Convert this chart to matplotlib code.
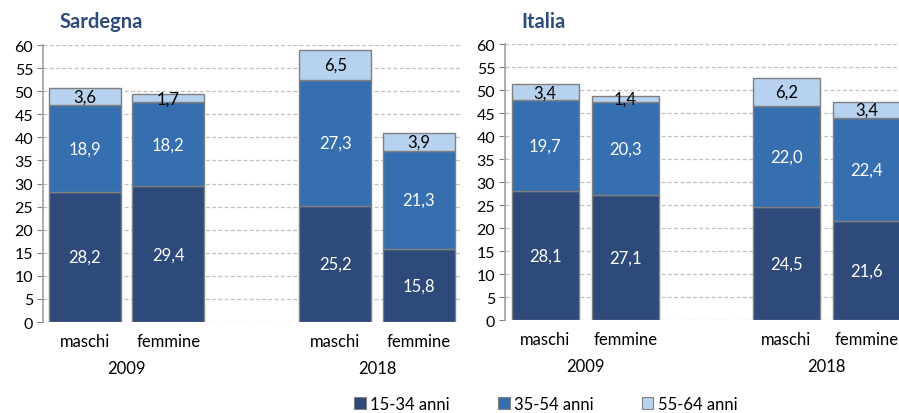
import matplotlib
matplotlib.use('Agg')
import matplotlib.pyplot as plt
from matplotlib.patches import Patch
from matplotlib.transforms import blended_transform_factory

plt.rcParams['font.family'] = ['Lato', 'DejaVu Sans']

sessi = ['maschi', 'femmine', 'maschi', 'femmine']
anni = ['2009', '2018']
fasce = ['15-34 anni', '35-54 anni', '55-64 anni']

sard_15_34 = [28.2, 29.4, 25.2, 15.8]
sard_35_54 = [18.9, 18.2, 27.3, 21.3]
sard_55_64 = [3.6, 1.7, 6.5, 3.9]

ita_15_34 = [28.1, 27.1, 24.5, 21.6]
ita_35_54 = [19.7, 20.3, 22.0, 22.4]
ita_55_64 = [3.4, 1.4, 6.2, 3.4]

colori = ['#2E4A7A', '#356FB0', '#B7D2EE']
col_testo = ['white', 'white', 'black']
pos = [0, 1, 3, 4]


def fmt(v):
    return ('%.1f' % v).replace('.', ',')


def grafico(ax, titolo, serie, larg):
    base = [0] * len(pos)
    for vals, c, ct in zip(serie, colori, col_testo):
        ax.bar(pos, vals, larg, bottom=base, color=c, edgecolor='#808080',
               linewidth=1.0, zorder=3)
        for x, b, v in zip(pos, base, vals):
            ax.text(x, b + v / 2, fmt(v), ha='center', va='center',
                    color=ct, fontsize=12, zorder=4)
        base = [b + v for b, v in zip(base, vals)]
    ax.set_xlim(-0.5, 4.5)
    ax.set_ylim(0, 60)
    ax.set_yticks(range(0, 61, 5))
    ax.set_xticks([])
    ax.tick_params(axis='y', labelsize=11.5, length=4, color='#808080', pad=3)
    ax.grid(axis='y', linestyle=(0, (3, 2)), color='#BFBFBF', linewidth=0.9, zorder=0)
    for s in ['top', 'right', 'bottom']:
        ax.spines[s].set_visible(False)
    ax.spines['left'].set_color('#A0A0A0')
    ax.spines['left'].set_linewidth(1.2)
    tr = blended_transform_factory(ax.transData, ax.transAxes)
    for x, s in zip(pos, sessi):
        ax.text(x, -0.068, s, transform=tr, ha='center', va='center', fontsize=12)
    for x, a in zip([0.5, 3.5], anni):
        ax.text(x, -0.165, a, transform=tr, ha='center', va='center', fontsize=12)
    ax.text(0.04, 1.085, titolo, transform=ax.transAxes, ha='left', va='center',
            fontsize=14.5, fontweight='bold', color='#2F4B7C')


fig = plt.figure(figsize=(8.99, 4.14), dpi=100)
ax1 = fig.add_axes([0.0478, 0.2198, 0.4644, 0.669])
ax2 = fig.add_axes([0.5617, 0.2246, 0.4472, 0.6667])
grafico(ax1, 'Sardegna', [sard_15_34, sard_35_54, sard_55_64], 0.86)
grafico(ax2, 'Italia', [ita_15_34, ita_35_54, ita_55_64], 0.83)

handles = [Patch(facecolor=c, edgecolor='#808080', linewidth=0.8) for c in colori]
fig.legend(handles, fasce, loc='center', bbox_to_anchor=(0.607, 0.022), ncol=3,
           frameon=False, fontsize=12, handlelength=0.7, handleheight=0.7,
           handletextpad=0.25, columnspacing=2.9)

fig.savefig('out.png', dpi=100)
